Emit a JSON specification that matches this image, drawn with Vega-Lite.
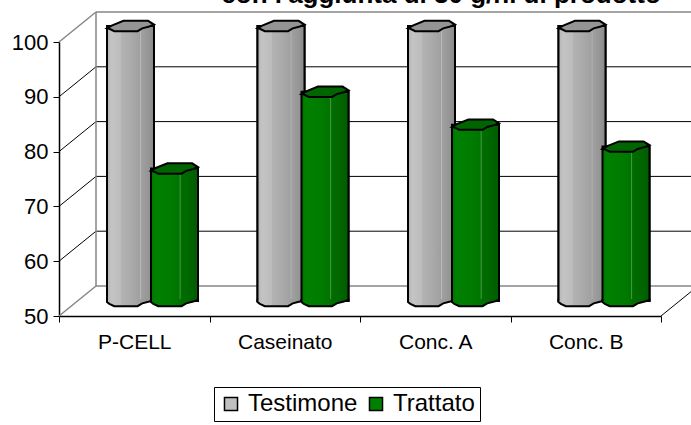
{
"$schema":"https://vega.github.io/schema/vega-lite/v6.json",
"width":602,"height":274,"autosize":"none",
"padding":{"left":59,"top":42,"right":30,"bottom":109},
"background":"white",
"title":{"text":"con l'aggiunta di 30 g/hl di prodotto","anchor":"start","dx":210,"dy":-3,"offset":0,"font":"Liberation Sans","fontSize":26,"fontWeight":"bold","color":"black"},
"config":{"view":{"stroke":null}},
"datasets":{
"bars":[
{"prodotto":"P-CELL","serie":"Testimone","valore":100},
{"prodotto":"P-CELL","serie":"Trattato","valore":74},
{"prodotto":"Caseinato","serie":"Testimone","valore":100},
{"prodotto":"Caseinato","serie":"Trattato","valore":88},
{"prodotto":"Conc. A","serie":"Testimone","valore":100},
{"prodotto":"Conc. A","serie":"Trattato","valore":82},
{"prodotto":"Conc. B","serie":"Testimone","valore":100},
{"prodotto":"Conc. B","serie":"Trattato","valore":78}],
"ticks":[{"tick":50},{"tick":60},{"tick":70},{"tick":80},{"tick":90},{"tick":100}]
},
"data":{"name":"bars"},
"encoding":{
 "x":{"field":"prodotto","type":"nominal","sort":null,"scale":{"domain":["P-CELL","Caseinato","Conc. A","Conc. B"],"paddingInner":0,"paddingOuter":0},
   "axis":{"title":null,"labelAngle":0,"domainColor":"black","domainWidth":1.5,"tickColor":"black","tickBand":"extent","tickSize":6,"labelFont":"Liberation Sans","labelFontSize":21,"labelColor":"black","labelPadding":9}},
 "xOffset":{"field":"serie","type":"nominal","scale":{"type":"point","padding":0,"domain":["Testimone","Trattato"],"range":[71.5,115.5]}},
 "y":{"field":"valore","type":"quantitative"}
},
"layer":[
{"data":{"name":"ticks"},"mark":{"type":"rule","yOffset":-30,"y2Offset":-30},
 "encoding":{"x":{"value":37},"x2":{"value":640},"xOffset":{"value":0},
 "y":{"field":"tick","type":"quantitative","scale":{"domain":[50,100]},
   "axis":{"values":[50,60,70,80,90,100],"title":null,"grid":false,"domainColor":"black","domainWidth":1.5,"tickColor":"black","tickSize":6,"tickWidth":1,"labelFont":"Liberation Sans","labelFontSize":22,"labelColor":"black","labelPadding":5}},
 "y2":{"field":"tick"},
 "stroke":{"condition":{"test":"datum.tick==50||datum.tick==100","value":"#868686"},"value":"black"},
 "strokeWidth":{"condition":{"test":"datum.tick==50||datum.tick==100","value":1.5},"value":1}}},
{"data":{"name":"ticks"},"mark":{"type":"rule","y2Offset":-30},
 "encoding":{"x":{"value":0},"x2":{"value":37},"xOffset":{"value":0},"y":{"field":"tick","type":"quantitative"},"y2":{"field":"tick"},
 "stroke":{"condition":{"test":"datum.tick==50||datum.tick==100","value":"#868686"},"value":"black"},
 "strokeWidth":{"condition":{"test":"datum.tick==50||datum.tick==100","value":1.5},"value":1}}},
{"data":{"values":[{"a":100,"b":50}]},"mark":{"type":"rule","yOffset":-30,"y2Offset":-30,"stroke":"#868686","strokeWidth":1.5},
 "encoding":{"x":{"value":37},"xOffset":{"value":0},"y":{"field":"a","type":"quantitative"},"y2":{"field":"b"}}},
{"data":{"values":[{"a":50}]},"mark":{"type":"rule","y2Offset":-30,"stroke":"black","strokeWidth":1},
 "encoding":{"x":{"value":602},"x2":{"value":639},"xOffset":{"value":0},"y":{"field":"a","type":"quantitative"},"y2":{"field":"a"}}},
{"mark":{"type":"bar","width":47,"yOffset":-16,"y2Offset":-15,"stroke":"black","strokeWidth":2},
 "encoding":{"y2":{"datum":50},
 "fill":{"field":"serie","type":"nominal","scale":{"domain":["Testimone","Trattato"],"range":["#C0C0C0","#008000"]},
   "legend":{"title":null,"orient":"none","legendX":155,"legendY":345,"direction":"horizontal","strokeColor":"black","padding":5,"symbolType":"square","symbolSize":170,"symbolStrokeColor":"black","symbolStrokeWidth":1.5,"labelFont":"Liberation Sans","labelFontSize":24,"labelColor":"black","columnPadding":6,"labelOffset":5}}}},

{"transform":[{"filter":"datum.serie=='Testimone'"}],"mark":{"type":"bar","width":47,"yOffset":-16,"y2Offset":-15,"stroke":"black","strokeWidth":2,
 "fill":{"gradient":"linear","x1":0,"y1":0,"x2":1,"y2":0,"stops":[{"offset":0,"color":"#b4b4b4"},{"offset":0.1,"color":"#c4c4c4"},{"offset":0.3,"color":"#bcbcbc"},{"offset":0.31,"color":"#b2b2b2"},{"offset":0.5,"color":"#ababab"},{"offset":0.7,"color":"#a0a0a0"},{"offset":0.71,"color":"#bdbdbd"},{"offset":0.73,"color":"#a0a0a0"},{"offset":0.9,"color":"#949494"},{"offset":1,"color":"#888888"}]}},
 "encoding":{"y2":{"datum":50}}},
{"transform":[{"filter":"datum.serie=='Testimone'"}],"mark":{"type":"point","filled":true,"size":2209,"shape":"M-1 0.1 L-0.8 -0.02 L-0.3 -0.22 L0.75 -0.22 L1 -0.06 L0.8 0.02 L0.5 0.1 L0.3 0.22 L-0.69 0.22 L-0.9 0.12 Z","yOffset":-16,"opacity":1,"fill":"#949494","stroke":"black","strokeWidth":2}},
{"transform":[{"filter":"datum.serie=='Testimone'"}],"mark":{"type":"point","filled":true,"size":2209,"shape":"M-1 -0.08 L-1 0.04 L-0.9 0.12 L-0.69 0.22 L0.3 0.22 L0.5 0.1 L0.8 0.02 L1 -0.04 L1 -0.08 Z","yOffset":-15,"opacity":1,"strokeWidth":0,
 "fill":{"gradient":"linear","x1":0,"y1":0,"x2":1,"y2":0,"stops":[{"offset":0,"color":"#b4b4b4"},{"offset":0.1,"color":"#c4c4c4"},{"offset":0.3,"color":"#bcbcbc"},{"offset":0.31,"color":"#b2b2b2"},{"offset":0.5,"color":"#ababab"},{"offset":0.7,"color":"#a0a0a0"},{"offset":0.9,"color":"#949494"},{"offset":1,"color":"#888888"}]}},
 "encoding":{"y":{"datum":50}}},
{"transform":[{"filter":"datum.serie=='Testimone'"}],"mark":{"type":"point","filled":false,"size":2209,"shape":"M-1 -0.1 L-1 0.04 L-0.9 0.12 L-0.69 0.22 L0.3 0.22 L0.5 0.1 L0.8 0.02 L1 -0.04 L1 -0.1","yOffset":-15,"opacity":1,"fill":null,"stroke":"black","strokeWidth":2},
 "encoding":{"y":{"datum":50}}},

{"transform":[{"filter":"datum.serie=='Trattato'"}],"mark":{"type":"bar","width":47,"yOffset":-16,"y2Offset":-15,"stroke":"black","strokeWidth":2,
 "fill":{"gradient":"linear","x1":0,"y1":0,"x2":1,"y2":0,"stops":[{"offset":0,"color":"#007000"},{"offset":0.08,"color":"#008000"},{"offset":0.4,"color":"#007c00"},{"offset":0.6,"color":"#007400"},{"offset":0.62,"color":"#4a9a4a"},{"offset":0.64,"color":"#006e00"},{"offset":0.85,"color":"#006400"},{"offset":1,"color":"#005c00"}]}},
 "encoding":{"y2":{"datum":50}}},
{"transform":[{"filter":"datum.serie=='Trattato'"}],"mark":{"type":"point","filled":true,"size":2209,"shape":"M-1 0.1 L-0.8 -0.02 L-0.3 -0.22 L0.75 -0.22 L1 -0.06 L0.8 0.02 L0.5 0.1 L0.3 0.22 L-0.69 0.22 L-0.9 0.12 Z","yOffset":-16,"opacity":1,"fill":"#006400","stroke":"black","strokeWidth":2}},
{"transform":[{"filter":"datum.serie=='Trattato'"}],"mark":{"type":"point","filled":true,"size":2209,"shape":"M-1 -0.08 L-1 0.04 L-0.9 0.12 L-0.69 0.22 L0.3 0.22 L0.5 0.1 L0.8 0.02 L1 -0.04 L1 -0.08 Z","yOffset":-15,"opacity":1,"strokeWidth":0,
 "fill":{"gradient":"linear","x1":0,"y1":0,"x2":1,"y2":0,"stops":[{"offset":0,"color":"#007000"},{"offset":0.08,"color":"#008000"},{"offset":0.4,"color":"#007c00"},{"offset":0.6,"color":"#007400"},{"offset":0.64,"color":"#006e00"},{"offset":0.85,"color":"#006400"},{"offset":1,"color":"#005c00"}]}},
 "encoding":{"y":{"datum":50}}},
{"transform":[{"filter":"datum.serie=='Trattato'"}],"mark":{"type":"point","filled":false,"size":2209,"shape":"M-1 -0.1 L-1 0.04 L-0.9 0.12 L-0.69 0.22 L0.3 0.22 L0.5 0.1 L0.8 0.02 L1 -0.04 L1 -0.1","yOffset":-15,"opacity":1,"fill":null,"stroke":"black","strokeWidth":2},
 "encoding":{"y":{"datum":50}}}
]}
